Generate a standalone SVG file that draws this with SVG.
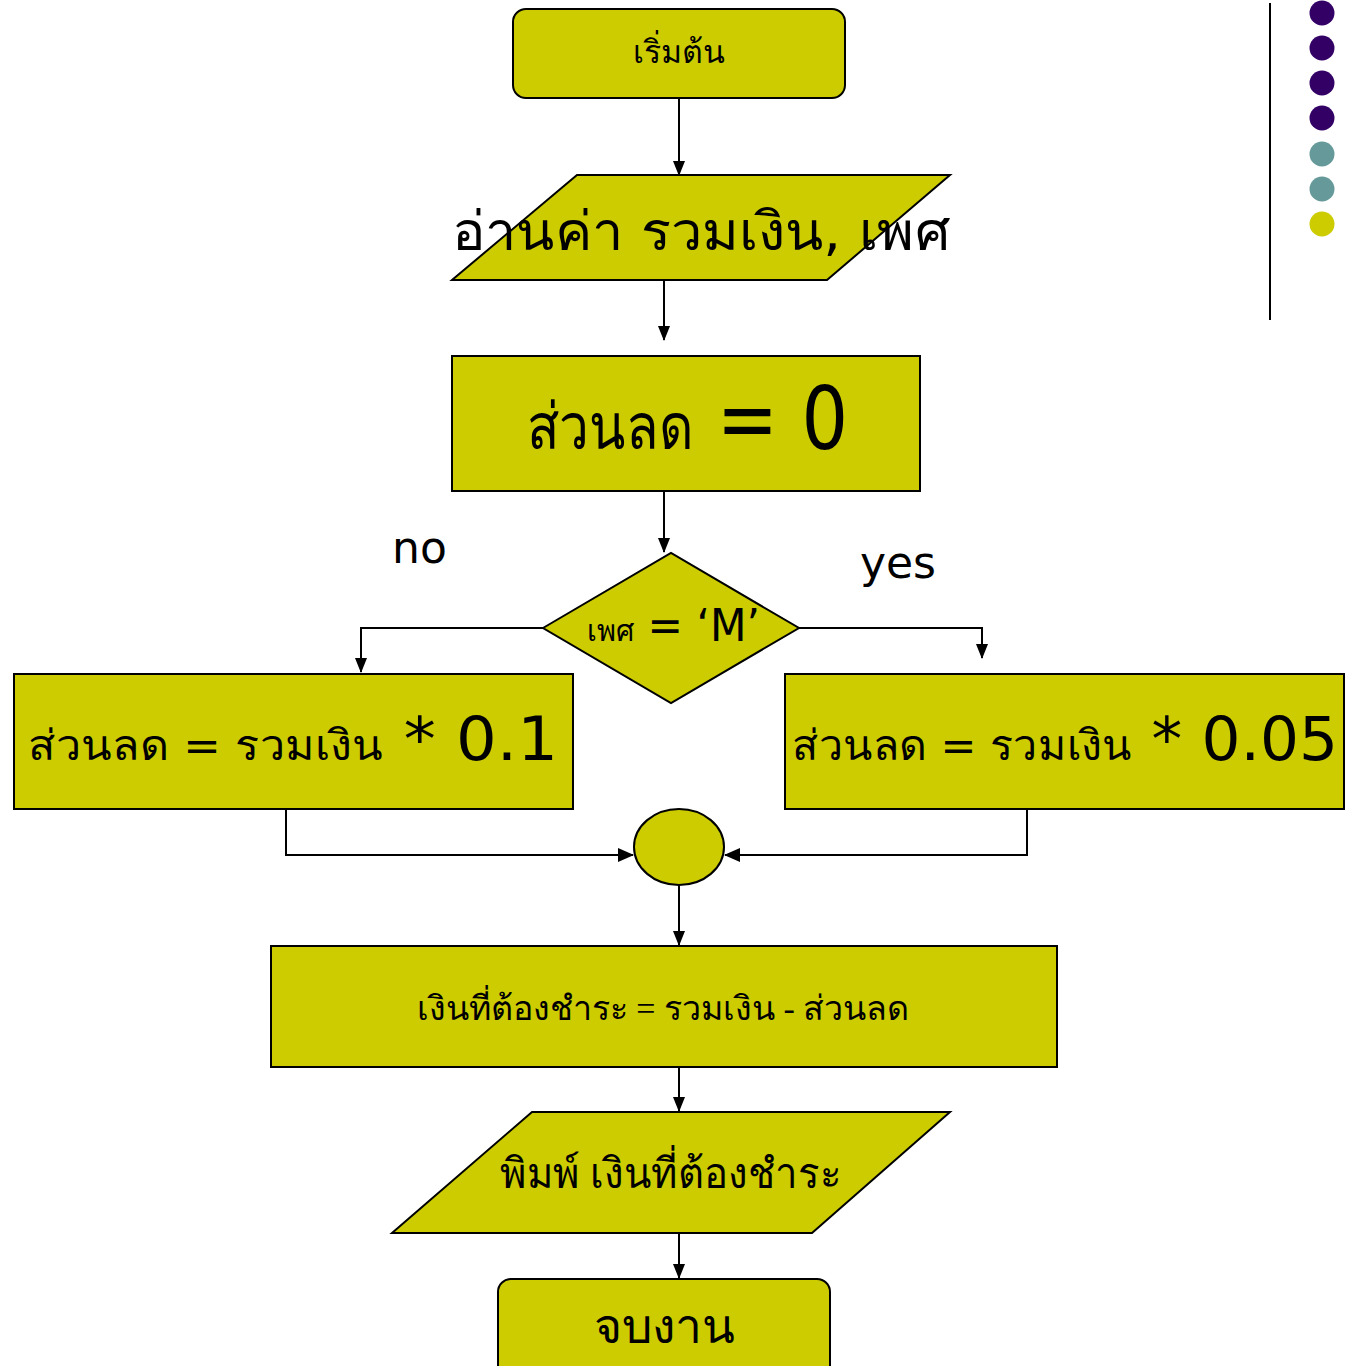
<svg xmlns="http://www.w3.org/2000/svg" width="1346" height="1366" viewBox="0 0 1346 1366">
  <style>
    .box { fill: #CCCC00; stroke: #000; stroke-width: 2; }
    .line { fill: none; stroke: #000; stroke-width: 2; }
    .sans { font-family: "DejaVu Sans", "Noto Sans", sans-serif; fill: #000; }
    .serif { font-family: "Liberation Serif", "DejaVu Serif", serif; fill: #000; }
    .mid { text-anchor: middle; }
  </style>
  <defs>
    <marker id="arrow" markerWidth="15" markerHeight="12" refX="14" refY="6" orient="auto" markerUnits="userSpaceOnUse">
      <path d="M0,0 L15,6 L0,12 z" fill="#000"/>
    </marker>
    <marker id="arrowL" markerWidth="16" markerHeight="14" refX="15" refY="7" orient="auto" markerUnits="userSpaceOnUse">
      <path d="M0,0 L16,7 L0,14 z" fill="#000"/>
    </marker>
  </defs>
  <rect width="1346" height="1366" fill="#fff"/>

  <!-- bullet column at the right edge -->
  <g id="sidebar">
    <line x1="1270" y1="3" x2="1270" y2="320" stroke="#000" stroke-width="2"/>
    <circle cx="1322" cy="13" r="12.5" fill="#330066"/>
    <circle cx="1322" cy="48" r="12.5" fill="#330066"/>
    <circle cx="1322" cy="83" r="12.5" fill="#330066"/>
    <circle cx="1322" cy="118" r="12.5" fill="#330066"/>
    <circle cx="1322" cy="154" r="12.5" fill="#669999"/>
    <circle cx="1322" cy="189" r="12.5" fill="#669999"/>
    <circle cx="1322" cy="224" r="12.5" fill="#CCCC00"/>
  </g>

  <g id="connectors">
    <line class="line" x1="679" y1="98" x2="679" y2="175" marker-end="url(#arrow)"/>
    <line class="line" x1="664" y1="280" x2="664" y2="340" marker-end="url(#arrow)"/>
    <line class="line" x1="664" y1="491" x2="664" y2="552" marker-end="url(#arrow)"/>
    <polyline class="line" points="543,628 361,628 361,672" marker-end="url(#arrow)"/>
    <polyline class="line" points="799,628 982,628 982,658" marker-end="url(#arrow)"/>
    <polyline class="line" points="286,809 286,855 633,855" marker-end="url(#arrowL)"/>
    <polyline class="line" points="1027,809 1027,855 725,855" marker-end="url(#arrowL)"/>
    <line class="line" x1="679" y1="885" x2="679" y2="945" marker-end="url(#arrow)"/>
    <line class="line" x1="679" y1="1067" x2="679" y2="1111" marker-end="url(#arrow)"/>
    <line class="line" x1="679" y1="1233" x2="679" y2="1278" marker-end="url(#arrow)"/>
  </g>

  <g id="start">
    <rect class="box" x="513" y="9" width="332" height="89" rx="13"/>
    <text class="serif mid" x="679" y="63" font-size="32">เริ่มต้น</text>
  </g>

  <g id="input">
    <polygon class="box" points="577,175 950,175 827,280 452,280"/>
    <text class="sans" x="452" y="250" font-size="54" textLength="498" lengthAdjust="spacingAndGlyphs">อ่านค่า รวมเงิน, เพศ</text>
  </g>

  <g id="init">
    <rect class="box" x="452" y="356" width="468" height="135"/>
    <text class="sans" x="527" y="449" font-size="88" textLength="321" lengthAdjust="spacingAndGlyphs"><tspan font-size="64">ส่วนลด</tspan> = 0</text>
  </g>

  <g id="decision">
    <polygon class="box" points="543,628 671,553 799,628 671,703"/>
    <text class="sans" x="587" y="641" font-size="44" textLength="173" lengthAdjust="spacingAndGlyphs"><tspan font-size="30">เพศ</tspan> = ‘M’</text>
  </g>

  <g id="labels">
    <text class="sans" x="392" y="563" font-size="44">no</text>
    <text class="sans" x="860" y="578" font-size="44">yes</text>
  </g>

  <g id="discount-no">
    <rect class="box" x="14" y="674" width="559" height="135"/>
    <text class="sans" x="28" y="760" font-size="60" textLength="530" lengthAdjust="spacingAndGlyphs"><tspan font-size="42">ส่วนลด  =  รวมเงิน</tspan>  * 0.1</text>
  </g>

  <g id="discount-yes">
    <rect class="box" x="785" y="674" width="559" height="135"/>
    <text class="sans" x="792" y="760" font-size="60" textLength="546" lengthAdjust="spacingAndGlyphs"><tspan font-size="42">ส่วนลด = รวมเงิน</tspan> * 0.05</text>
  </g>

  <g id="merge">
    <ellipse class="box" cx="679" cy="847" rx="45" ry="38"/>
  </g>

  <g id="calc">
    <rect class="box" x="271" y="946" width="786" height="121"/>
    <text class="serif mid" x="663" y="1020" font-size="34">เงินที่ต้องชำระ  = รวมเงิน - ส่วนลด</text>
  </g>

  <g id="output">
    <polygon class="box" points="532,1112 950,1112 812,1233 392,1233"/>
    <text class="serif" x="500" y="1188" font-size="42" textLength="342" lengthAdjust="spacingAndGlyphs">พิมพ์ เงินที่ต้องชำระ</text>
  </g>

  <g id="end">
    <rect class="box" x="498" y="1279" width="332" height="100" rx="13"/>
    <text class="serif mid" x="664" y="1343" font-size="48">จบงาน</text>
  </g>
</svg>
